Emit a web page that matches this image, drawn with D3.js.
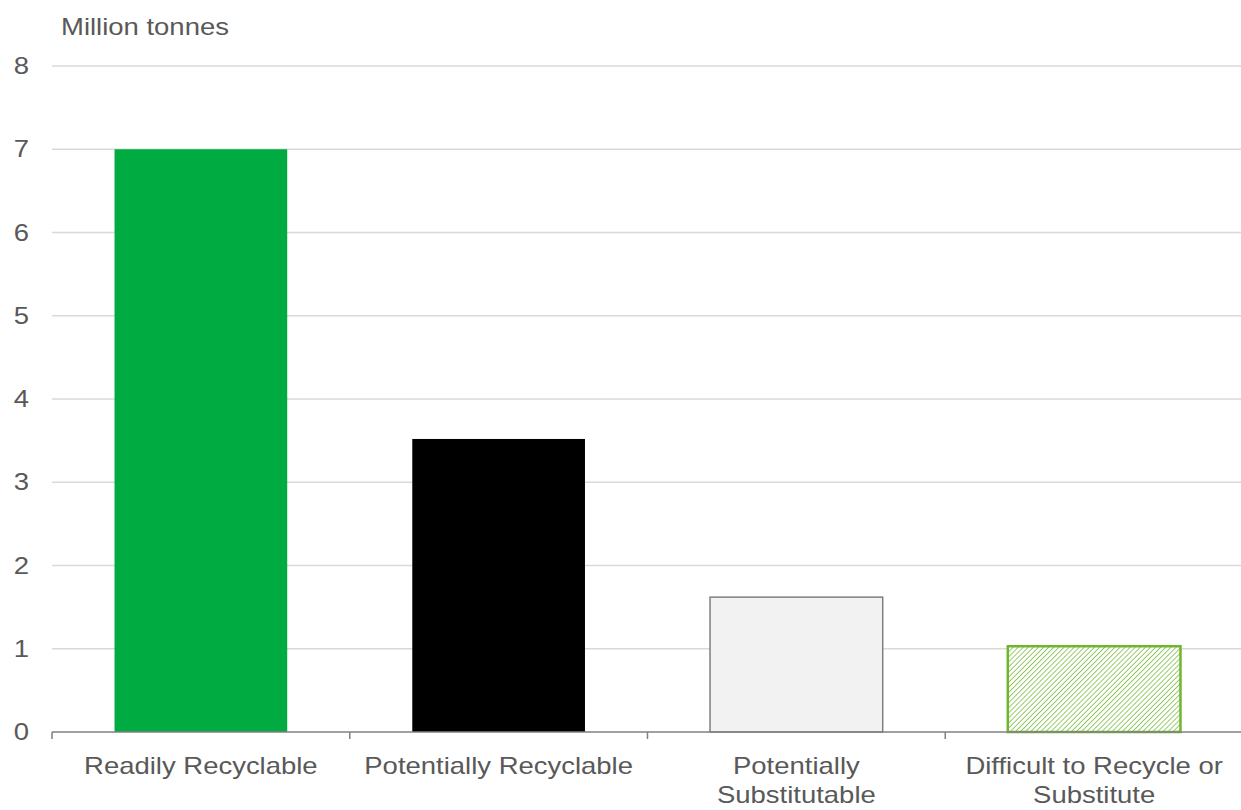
<!DOCTYPE html>
<html>
<head>
<meta charset="utf-8">
<script src="https://cdn.jsdelivr.net/npm/d3@7"></script>
<style>
  body { margin: 0; background: #fff; }
  text { font-family: "Liberation Sans", Arial, sans-serif; fill: #595959; font-size: 24px; }
</style>
</head>
<body>
<script>
var categories = ["Readily Recyclable", "Potentially Recyclable", "Potentially Substitutable", "Difficult to Recycle or Substitute"];
var labelLines = [["Readily Recyclable"], ["Potentially Recyclable"], ["Potentially", "Substitutable"], ["Difficult to Recycle or", "Substitute"]];
var values = [7.0, 3.52, 1.62, 1.03];
var yTicks = [0, 1, 2, 3, 4, 5, 6, 7, 8];

var width = 1241, height = 810;
var margin = { left: 52, right: -2, top: 66, bottom: 78 };
var stretch = 1.145; // text in the original is a bit wide

var svg = d3.select("body").append("svg")
    .attr("width", width)
    .attr("height", height);

// hatch for the last bar
var defs = svg.append("defs");
var pat = defs.append("pattern")
    .attr("id", "hatch")
    .attr("patternUnits", "userSpaceOnUse")
    .attr("width", 3.6)
    .attr("height", 3.6)
    .attr("patternTransform", "rotate(45)");
pat.append("rect").attr("width", 3.6).attr("height", 3.6).attr("fill", "#fff");
pat.append("line")
    .attr("x1", 0).attr("y1", 0).attr("x2", 0).attr("y2", 3.6)
    .attr("stroke", "#7dbf45").attr("stroke-width", 1.6);

var xScale = d3.scaleBand()
    .domain(categories)
    .range([margin.left, width - margin.right])
    .paddingInner(0.42)
    .paddingOuter(0.21);

var yScale = d3.scaleLinear()
    .domain([0, 8])
    .range([height - margin.bottom, margin.top]);

function label(x, y, anchor) {
    return svg.append("g")
        .attr("transform", "translate(" + x + "," + y + ")")
        .append("text")
        .attr("transform", "scale(" + stretch + ",1)")
        .attr("text-anchor", anchor);
}

// gridlines
svg.append("g").selectAll("line")
    .data(yTicks.slice(1))
    .enter().append("line")
    .attr("x1", margin.left)
    .attr("x2", width)
    .attr("y1", function(d) { return yScale(d); })
    .attr("y2", function(d) { return yScale(d); })
    .attr("stroke", "#d9d9d9")
    .attr("stroke-width", 1.5);

// y labels
yTicks.forEach(function(d) {
    label(29, yScale(d) + 8, "end").text(d);
});

label(61, 35, "start").text("Million tonnes");

var fills = ["#00ac41", "#000000", "#f2f2f2", "url(#hatch)"];
var strokes = ["none", "none", "#7f7f7f", "#70b62c"];
var strokeW = [0, 0, 1.5, 2.5];

svg.append("g").selectAll("rect")
    .data(values)
    .enter().append("rect")
    .attr("x", function(d, i) { return xScale(categories[i]); })
    .attr("width", xScale.bandwidth())
    .attr("y", function(d) { return yScale(d); })
    .attr("height", function(d) { return yScale(0) - yScale(d); })
    .attr("fill", function(d, i) { return fills[i]; })
    .attr("stroke", function(d, i) { return strokes[i]; })
    .attr("stroke-width", function(d, i) { return strokeW[i]; });

// x axis line and ticks
var y0 = yScale(0);
svg.append("line")
    .attr("x1", margin.left).attr("x2", width)
    .attr("y1", y0).attr("y2", y0)
    .attr("stroke", "#808080").attr("stroke-width", 1.5);

var step = xScale.step();
svg.append("g").selectAll("line")
    .data(categories)
    .enter().append("line")
    .attr("x1", function(d) { return xScale(d) + xScale.bandwidth() / 2 - step / 2; })
    .attr("x2", function(d) { return xScale(d) + xScale.bandwidth() / 2 - step / 2; })
    .attr("y1", y0).attr("y2", y0 + 7)
    .attr("stroke", "#808080").attr("stroke-width", 1.5);

// category labels
categories.forEach(function(d, i) {
    var cx = xScale(d) + xScale.bandwidth() / 2;
    var t = label(cx, 774, "middle");
    labelLines[i].forEach(function(line, j) {
        t.append("tspan")
            .attr("x", 0)
            .attr("dy", j === 0 ? 0 : 29)
            .text(line);
    });
});
</script>
</body>
</html>
